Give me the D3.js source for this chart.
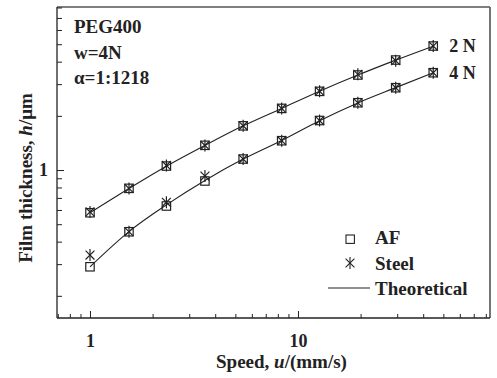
<!DOCTYPE html>
<html>
<head>
<meta charset="utf-8">
<script src="https://cdn.jsdelivr.net/npm/d3@7"></script>
<style>
  body { margin: 0; background: #fff; }
  svg text { font-family: "Liberation Serif", "Times New Roman", serif; font-weight: bold; fill: #222; }
</style>
</head>
<body>
<svg width="497" height="378"></svg>
<script>
// speeds (mm/s)
var speeds = [1, 1.54, 2.33, 3.57, 5.45, 8.35, 12.7, 19.4, 29.5, 44.7];

// film thickness (um), 2 N load
var af2N    = [0.579, 0.791, 1.052, 1.372, 1.76, 2.2, 2.736, 3.372, 4.085, 4.886];
var steel2N = [0.585, 0.79, 1.06, 1.37, 1.76, 2.2, 2.74, 3.4, 4.05, 4.886];
var theory2N = [0.579, 0.79, 1.05, 1.37, 1.76, 2.2, 2.74, 3.37, 4.08, 4.88];

// film thickness (um), 4 N load
var af4N    = [0.29, 0.454, 0.631, 0.869, 1.151, 1.455, 1.884, 2.365, 2.866, 3.472];
var steel4N = [0.337, 0.454, 0.662, 0.926, 1.151, 1.455, 1.884, 2.365, 2.866, 3.472];
var theory4N = [0.29, 0.455, 0.64, 0.875, 1.15, 1.46, 1.88, 2.36, 2.87, 3.47];

var loadLabels = ["2 N", "4 N"];
var notes = ["PEG400", "w=4N", "\u03b1=1:1218"];
var xTicks = [1, 10];
var yTicks = [1];
var legendNames = ["AF", "Steel", "Theoretical"];

var ink = "#222";
var svg = d3.select("svg");

var xs = d3.scaleLog().domain([0.694, 83.8]).range([57, 490]);
var ys = d3.scaleLog().domain([0.1506, 8.05]).range([318, 7]);

// frame: top and right lighter, left and bottom dark
svg.append("line").attr("x1", 57).attr("x2", 490).attr("y1", 7).attr("y2", 7)
  .attr("stroke", "#555").attr("stroke-width", 1.3);
svg.append("line").attr("x1", 490).attr("x2", 490).attr("y1", 7).attr("y2", 318)
  .attr("stroke", "#666").attr("stroke-width", 1.8);
svg.append("line").attr("x1", 57).attr("x2", 57).attr("y1", 7).attr("y2", 318)
  .attr("stroke", ink).attr("stroke-width", 1.3);
svg.append("line").attr("x1", 57).attr("x2", 490).attr("y1", 318).attr("y2", 318)
  .attr("stroke", ink).attr("stroke-width", 1.3);

// bottom axis: ticks point inward
var xMinor = [];
[0.1, 1, 10].forEach(function(d) {
  for (var k = 2; k <= 9; k++) {
    var v = d * k;
    if (v > 0.694 && v < 83.8) xMinor.push(v);
  }
});
svg.append("g")
  .attr("transform", "translate(0,318)")
  .call(d3.axisBottom(xs).tickValues(xMinor).tickSize(-4).tickFormat(""))
  .call(function(g) { g.select(".domain").remove(); g.selectAll("line").attr("stroke", ink); });
svg.append("g")
  .attr("transform", "translate(0,318)")
  .call(d3.axisBottom(xs).tickValues(xTicks).tickSize(-7).tickPadding(16).tickFormat(d3.format("d")))
  .call(function(g) {
    g.select(".domain").remove();
    g.selectAll("line").attr("stroke", ink);
    g.selectAll("text").attr("font-size", 18).attr("font-family", null);
  });

// left axis
var yMinor = [];
[0.1, 1].forEach(function(d) {
  for (var k = 2; k <= 9; k++) {
    var v = d * k;
    if (v > 0.1506 && v < 8.05) yMinor.push(v);
  }
});
svg.append("g")
  .attr("transform", "translate(57,0)")
  .call(d3.axisLeft(ys).tickValues(yMinor).tickSize(-5).tickFormat(""))
  .call(function(g) { g.select(".domain").remove(); g.selectAll("line").attr("stroke", ink); });
svg.append("g")
  .attr("transform", "translate(57,0)")
  .call(d3.axisLeft(ys).tickValues(yTicks).tickSize(-7).tickPadding(9).tickFormat(d3.format("d")))
  .call(function(g) {
    g.select(".domain").remove();
    g.selectAll("line").attr("stroke", ink);
    g.selectAll("text").attr("font-size", 18).attr("font-family", null);
  });

// axis titles
var xt = svg.append("text").attr("x", 216).attr("y", 368).attr("font-size", 19);
xt.append("tspan").text("Speed, ");
xt.append("tspan").attr("font-style", "italic").text("u");
xt.append("tspan").text("/(mm/s)");

var yt = svg.append("text")
  .attr("transform", "translate(32,178) rotate(-90)")
  .attr("text-anchor", "middle").attr("font-size", 19);
yt.append("tspan").text("Film thickness, ");
yt.append("tspan").attr("font-style", "italic").text("h");
yt.append("tspan").text("/\u03bcm");

// theory curves
var line = d3.line()
  .x(function(d, i) { return xs(speeds[i]); })
  .y(function(d) { return ys(d); })
  .curve(d3.curveMonotoneX);

[theory2N, theory4N].forEach(function(s) {
  svg.append("path")
    .attr("d", line(s))
    .attr("fill", "none").attr("stroke", ink).attr("stroke-width", 1.1);
});

function star(g, r) {
  var a = r * 0.74;
  g.append("line").attr("x1", 0).attr("y1", -r).attr("x2", 0).attr("y2", r);
  g.append("line").attr("x1", -a).attr("y1", -a).attr("x2", a).attr("y2", a);
  g.append("line").attr("x1", -a).attr("y1", a).attr("x2", a).attr("y2", -a);
}

// squares for AF
[af2N, af4N].forEach(function(s) {
  svg.append("g")
    .selectAll("rect")
    .data(s)
    .enter()
    .append("rect")
    .attr("x", function(d, i) { return xs(speeds[i]) - 4.2; })
    .attr("y", function(d) { return ys(d) - 4.2; })
    .attr("width", 8.4).attr("height", 8.4)
    .attr("fill", "none").attr("stroke", ink).attr("stroke-width", 1.2);
});

// asterisks for steel
[steel2N, steel4N].forEach(function(s) {
  svg.append("g")
    .selectAll("g")
    .data(s)
    .enter()
    .append("g")
    .attr("transform", function(d, i) { return "translate(" + xs(speeds[i]) + "," + ys(d) + ")"; })
    .attr("stroke", ink).attr("stroke-width", 1.2)
    .each(function() { star(d3.select(this), 6); });
});

// load labels at curve ends
[af2N, af4N].forEach(function(s, j) {
  var n = s.length - 1;
  svg.append("text")
    .attr("x", xs(speeds[n]) + 16)
    .attr("y", ys(s[n]) + 6)
    .attr("font-size", 18)
    .text(loadLabels[j]);
});

// notes top left
svg.append("g")
  .selectAll("text")
  .data(notes)
  .enter()
  .append("text")
  .attr("x", 74)
  .attr("y", function(d, i) { return 33 + i * 25.5; })
  .attr("font-size", 19)
  .text(function(d) { return d; });

// legend
var lg = svg.append("g");
lg.append("rect").attr("x", 346).attr("y", 235).attr("width", 8.4).attr("height", 8.4)
  .attr("fill", "none").attr("stroke", ink).attr("stroke-width", 1.1);
var lst = lg.append("g").attr("transform", "translate(350,263)").attr("stroke", ink).attr("stroke-width", 1.1);
star(lst, 6);
lg.append("line").attr("x1", 328).attr("x2", 370).attr("y1", 288).attr("y2", 288)
  .attr("stroke", ink).attr("stroke-width", 1.1);
lg.selectAll("text.leg")
  .data(legendNames)
  .enter()
  .append("text")
  .attr("class", "leg")
  .attr("x", 375)
  .attr("y", function(d, i) { return [244, 270, 295][i]; })
  .attr("font-size", 19)
  .text(function(d) { return d; });
</script>
</body>
</html>
